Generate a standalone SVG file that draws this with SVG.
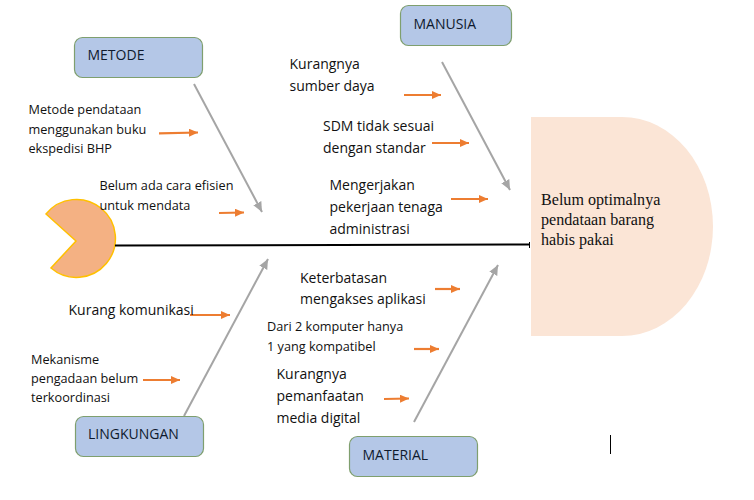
<svg xmlns="http://www.w3.org/2000/svg" width="754" height="500" viewBox="0 0 754 500">
<style>
text{font-family:"Open Sans","Noto Sans",sans-serif;fill:#111}
.l{font-size:14px;fill:#0f1a2e}
.s{font-size:12.7px}
.m{font-size:14px}
.h{font-family:"Liberation Serif","Times New Roman",serif;font-size:16.1px}
.box{fill:#b4c7e7;stroke:#7f9f6e;stroke-width:1.2}
.bone{fill:none;stroke:#a5a5a5;stroke-width:2;marker-end:url(#g)}
.rib{fill:none;stroke:#ed7d31;stroke-width:2.2;marker-end:url(#o)}
</style>
<defs>
<marker id="g" markerUnits="userSpaceOnUse" markerWidth="12" markerHeight="10" refX="10" refY="4.5" orient="auto"><path d="M0 0L10 4.5L0 9Z" fill="#a5a5a5"/></marker>
<marker id="o" markerUnits="userSpaceOnUse" markerWidth="11" markerHeight="9" refX="9" refY="4" orient="auto"><path d="M0 0L9 4L0 8Z" fill="#ed7d31"/></marker>
</defs>
<rect width="754" height="500" fill="#fff"/>
<g id="head"><path d="M531 117H622A91 109.5 0 0 1 622 336H531Z" fill="#fbe5d6"/>
<text class="h" x="541" y="205">Belum optimalnya</text><text class="h" x="541" y="225">pendataan barang</text><text class="h" x="541" y="245">habis pakai</text></g>
<g id="tail"><path d="M46 214A39 39 0 1 1 51 268L76 241Z" fill="#f4b183" stroke="#ffc000" stroke-width="1.5"/></g>
<g id="connectors">
<path d="M115 245.500L529.500 244.500" fill="none" stroke="#000" stroke-width="2"/>
<path d="M529.500 242V248" fill="none" stroke="#000" stroke-width="1"/>
<path class="bone" d="M194 84L262 212"/>
<path class="bone" d="M442 62L510 190"/>
<path class="bone" d="M184 416L268 259"/>
<path class="bone" d="M414 422L498 265"/>
<path class="rib" d="M159 133.300L198 132.500"/>
<path class="rib" d="M219 213L244 212.500"/>
<path class="rib" d="M404 95H441"/>
<path class="rib" d="M432 143H469"/>
<path class="rib" d="M451 199H488"/>
<path class="rib" d="M190 315H230"/>
<path class="rib" d="M143 380H180"/>
<path class="rib" d="M435 289H460"/>
<path class="rib" d="M414 349H439"/>
<path class="rib" d="M384 399L409 398.500"/>
</g>
<g id="metode"><rect class="box" x="74.500" y="37.500" width="128" height="40" rx="8"/><text class="l" x="87.500" y="60">METODE</text></g>
<g id="manusia"><rect class="box" x="400.500" y="5.500" width="111" height="40" rx="8"/><text class="l" x="413.500" y="29">MANUSIA</text></g>
<g id="lingkungan"><rect class="box" x="75.500" y="416.500" width="128" height="40" rx="8"/><text class="l" x="88" y="439">LINGKUNGAN</text></g>
<g id="material"><rect class="box" x="349.500" y="436.500" width="128" height="40" rx="8"/><text class="l" x="362.500" y="460">MATERIAL</text></g>
<g id="cause-metode-1"><text class="s" x="28.500" y="114">Metode pendataan</text><text class="s" x="28.500" y="134">menggunakan buku</text><text class="s" x="28.500" y="153">ekspedisi BHP</text></g>
<g id="cause-metode-2"><text class="s" x="99.500" y="190">Belum ada cara efisien</text><text class="s" x="99.500" y="210">untuk mendata</text></g>
<g id="cause-manusia-1"><text class="m" x="289.500" y="69">Kurangnya</text><text class="m" x="289.500" y="91">sumber daya</text></g>
<g id="cause-manusia-2"><text class="m" x="323" y="131">SDM tidak sesuai</text><text class="m" x="323" y="153">dengan standar</text></g>
<g id="cause-manusia-3"><text class="m" x="329.500" y="190">Mengerjakan</text><text class="m" x="329.500" y="212">pekerjaan tenaga</text><text class="m" x="329.500" y="234">administrasi</text></g>
<g id="cause-lingkungan-1"><text class="m" x="68.500" y="315">Kurang komunikasi</text></g>
<g id="cause-lingkungan-2"><text class="s" x="31" y="364">Mekanisme</text><text class="s" x="31" y="383">pengadaan belum</text><text class="s" x="31" y="402">terkoordinasi</text></g>
<g id="cause-material-1"><text class="m" x="300" y="283">Keterbatasan</text><text class="m" x="300" y="304">mengakses aplikasi</text></g>
<g id="cause-material-2"><text class="s" x="267" y="331">Dari 2 komputer hanya</text><text class="s" x="267" y="351">1 yang kompatibel</text></g>
<g id="cause-material-3"><text class="m" x="276.500" y="379">Kurangnya</text><text class="m" x="276.500" y="401">pemanfaatan</text><text class="m" x="276.500" y="423">media digital</text></g>
<path d="M610.500 435V454" stroke="#000" stroke-width="1"/>
</svg>
